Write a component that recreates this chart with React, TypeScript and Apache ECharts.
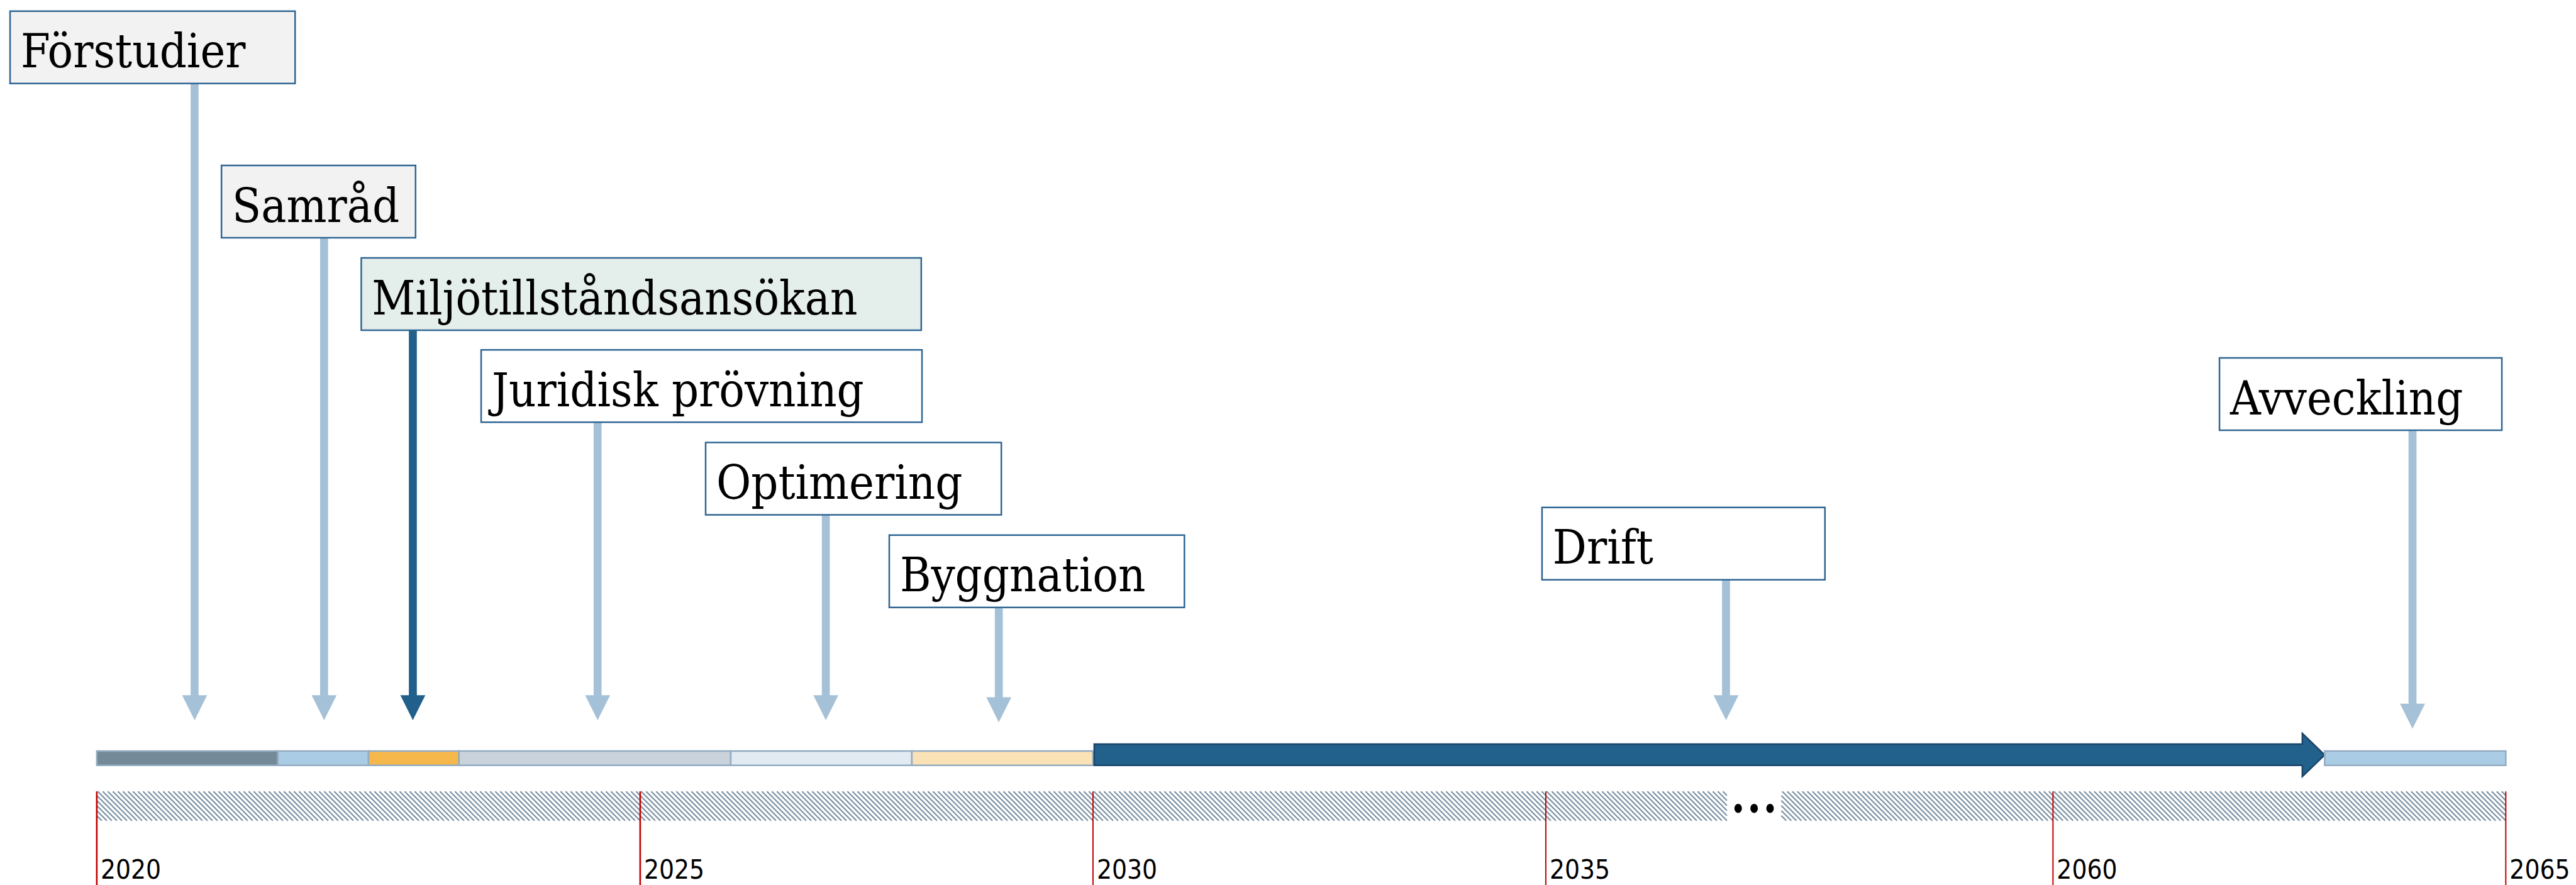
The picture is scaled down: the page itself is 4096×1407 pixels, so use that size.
import React, { useEffect, useRef } from "react";
import * as echarts from "echarts";

// ---------- data ----------
// Positions along the schematic time axis (1 unit ≈ 1 year in the early phases).
const phaseNames = [
  "Förstudier",
  "Samråd",
  "Miljötillståndsansökan",
  "Juridisk prövning",
  "Optimering",
  "Byggnation",
  "Drift",
  "Avveckling",
];
const phaseStart = [0, 2, 3, 4, 7, 9, 11, 24.6];
const phaseEnd = [2, 3, 4, 7, 9, 11, 24.6, 26.6];
const markerAt = [1.08, 2.51, 3.49, 5.53, 8.05, 9.96, 17.99, 25.57];

const tickPositions = [0, 6, 11, 16, 21.6, 26.6];
const tickLabels = ["2020", "2025", "2030", "2035", "2060", "2065"];
const axisBreak = [18.0, 18.6];

// ---------- layout (reference pixels, scaled by K) ----------
const W = 4096;
const H = 1407;
const REF_W = 4844;
const REF_H = 1664;
const K = W / REF_W;
const ORIGIN = 182; // ref px of position 0
const UNIT = 170.3; // ref px per unit
const X_MIN = -ORIGIN / UNIT;
const X_MAX = (REF_W - ORIGIN) / UNIT;

const boxLeftOffset = [-347, -193, -97, -219, -226, -206, -346, -363];
const boxWidth = [536, 365, 1053, 829, 556, 555, 532, 531];
const boxTop = [21, 311, 485, 658, 832, 1006, 954, 673];
const BOX_H = 136;
const arrowTip = [1354, 1354, 1354, 1354, 1354, 1358, 1354, 1370];

// ---------- styles ----------
const boxFill = ["#f2f2f2", "#f2f2f2", "#e4eeea", "#ffffff", "#ffffff", "#ffffff", "#ffffff", "#ffffff"];
const arrowColor = ["#a5c1d7", "#a5c1d7", "#22608c", "#a5c1d7", "#a5c1d7", "#a5c1d7", "#a5c1d7", "#a5c1d7"];
const phaseFill = ["#758a99", "#abcce5", "#f6b84a", "#cad3db", "#e2eaf2", "#fae1b6", "#22618c", "#abcce5"];
const BOX_STROKE = "#2e6593";
const BAR_STROKE = "#93abc2";
const HATCH = "#7a90a4";
const SERIF = "'DejaVu Serif Condensed', 'DejaVu Serif', serif";
const SANS = "'DejaVu Sans Condensed', 'DejaVu Sans', sans-serif";
const BOX_FONT = 75;
const TICK_FONT = 42;

export default function App() {
  const ref = useRef<HTMLDivElement>(null);

  useEffect(() => {
    const chart = echarts.init(ref.current as HTMLDivElement, null, {
      renderer: "svg",
      width: W,
      height: H,
    });

    const Y = (api: any, v: number) => api.coord([0, v])[1];

    const option: any = {
      animation: false,
      backgroundColor: "#ffffff",
      grid: { left: 0, right: 0, top: 0, bottom: 0 },
      xAxis: {
        type: "value",
        min: X_MIN,
        max: X_MAX,
        show: false,
      },
      yAxis: {
        type: "value",
        min: 0,
        max: REF_H,
        inverse: true,
        show: false,
      },
      series: [
        // hatched band with axis break
        {
          type: "custom",
          name: "hatch",
          silent: true,
          data: [
            [tickPositions[0], axisBreak[0]],
            [axisBreak[1], tickPositions[tickPositions.length - 1]],
          ],
          renderItem: (params: any, api: any) => {
            const left = api.coord([api.value(0), 0])[0];
            const right = api.coord([api.value(1), 0])[0];
            const top = Y(api, 1488);
            const bottom = Y(api, 1543);
            const h = bottom - top;
            const step = 8;
            const children: any[] = [];
            for (let x0 = left - h; x0 < right; x0 += step) {
              let xa = x0, ya = top, xb = x0 + h, yb = bottom;
              if (xa < left) { ya = top + (left - xa); xa = left; }
              if (xb > right) { yb = bottom - (xb - right); xb = right; }
              if (xb <= xa) continue;
              children.push({
                type: "line",
                shape: { x1: xa, y1: ya, x2: xb, y2: yb },
                style: { stroke: HATCH, lineWidth: 2.2 },
              });
            }
            return { type: "group", children };
          },
        },
        // break dots
        {
          type: "custom",
          name: "break",
          silent: true,
          data: [[axisBreak[0], axisBreak[1]]],
          renderItem: (params: any, api: any) => {
            const a = api.coord([api.value(0), 0])[0];
            const b = api.coord([api.value(1), 0])[0];
            const c = (a + b) / 2;
            const y = Y(api, 1520);
            const gap = 30 * K;
            return {
              type: "group",
              children: [-1, 0, 1].map((k) => ({
                type: "ellipse",
                shape: { cx: c + k * gap, cy: y, rx: 7 * K, ry: 8.5 * K },
                style: { fill: "#000000" },
              })),
            };
          },
        },
        // year ticks (red lines) and labels
        {
          type: "custom",
          name: "ticks",
          silent: true,
          data: tickPositions.map((p, i) => [p, i]),
          renderItem: (params: any, api: any) => {
            const i = params.dataIndex;
            const x = api.coord([api.value(0), 0])[0];
            const y0 = Y(api, 1488);
            const y1 = Y(api, REF_H);
            const baseline = Y(api, 1652);
            return {
              type: "group",
              children: [
                {
                  type: "line",
                  shape: { x1: x, y1: y0, x2: x, y2: y1 },
                  style: { stroke: "#c00000", lineWidth: i < 2 ? 2.6 : 2 },
                },
                {
                  type: "text",
                  x: x + 6,
                  y: baseline - 0.346 * TICK_FONT,
                  style: {
                    text: tickLabels[i],
                    fill: "#000000",
                    fontSize: TICK_FONT,
                    fontFamily: SANS,
                    align: "left",
                    verticalAlign: "middle",
                  },
                },
              ],
            };
          },
        },
        // phase bar
        {
          type: "custom",
          name: "phases",
          silent: true,
          data: phaseStart.map((s, i) => [s, phaseEnd[i]]),
          renderItem: (params: any, api: any) => {
            const i = params.dataIndex;
            const x0 = api.coord([api.value(0), 0])[0];
            const x1 = api.coord([api.value(1), 0])[0];
            if (phaseNames[i] === "Drift") {
              const yT = Y(api, 1399);
              const yB = Y(api, 1439);
              const hT = Y(api, 1379);
              const hB = Y(api, 1460);
              const yc = (hT + hB) / 2;
              const hl = 42 * K;
              return {
                type: "polygon",
                shape: {
                  points: [
                    [x0 + 2, yT],
                    [x1 - hl, yT],
                    [x1 - hl, hT],
                    [x1, yc],
                    [x1 - hl, hB],
                    [x1 - hl, yB],
                    [x0 + 2, yB],
                  ],
                },
                style: { fill: phaseFill[i], stroke: "#1b4669", lineWidth: 2.5 },
              };
            }
            const yT = Y(api, 1412);
            const yB = Y(api, 1439);
            return {
              type: "rect",
              shape: { x: x0, y: yT, width: x1 - x0, height: yB - yT },
              style: { fill: phaseFill[i], stroke: BAR_STROKE, lineWidth: 2.5 },
            };
          },
        },
        // label boxes with arrows
        {
          type: "custom",
          name: "markers",
          silent: true,
          data: markerAt.map((m, i) => [m, i]),
          renderItem: (params: any, api: any) => {
            const i = params.dataIndex;
            const x = api.coord([api.value(0), 0])[0];
            const bx = x + boxLeftOffset[i] * K;
            const by = Y(api, boxTop[i]);
            const bw = boxWidth[i] * K;
            const bh = BOX_H * K;
            const tip = Y(api, arrowTip[i]);
            const headL = 47 * K;
            const headW = 47 * K;
            const shaftW = 15 * K;
            const baseline = by + 106 * K;
            return {
              type: "group",
              children: [
                {
                  type: "rect",
                  shape: { x: x - shaftW / 2, y: by + bh, width: shaftW, height: tip - headL - (by + bh) + 1 },
                  style: { fill: arrowColor[i] },
                },
                {
                  type: "polygon",
                  shape: {
                    points: [
                      [x - headW / 2, tip - headL],
                      [x + headW / 2, tip - headL],
                      [x, tip],
                    ],
                  },
                  style: { fill: arrowColor[i] },
                },
                {
                  type: "rect",
                  shape: { x: bx, y: by, width: bw, height: bh },
                  style: { fill: boxFill[i], stroke: BOX_STROKE, lineWidth: 2.5 },
                },
                {
                  type: "text",
                  x: bx + 20 * K,
                  y: baseline - 0.346 * BOX_FONT,
                  style: {
                    text: phaseNames[i],
                    fill: "#000000",
                    fontSize: BOX_FONT,
                    fontFamily: SERIF,
                    align: "left",
                    verticalAlign: "middle",
                  },
                },
              ],
            };
          },
        },
      ],
    };

    chart.setOption(option);
    return () => chart.dispose();
  }, []);

  return (
    <div
      ref={ref}
      style={{ position: "fixed", left: 0, top: 0, width: W, height: H, background: "#ffffff" }}
    />
  );
}
